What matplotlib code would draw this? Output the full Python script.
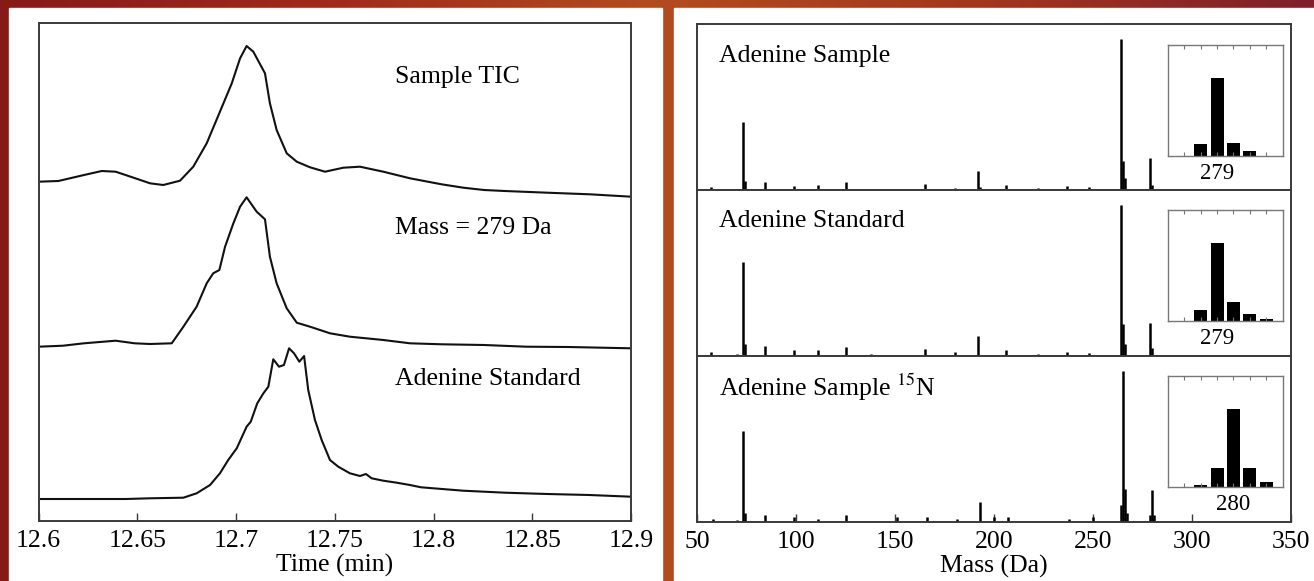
import numpy as np
import matplotlib.pyplot as plt
from matplotlib.colors import LinearSegmentedColormap
from matplotlib.patches import Rectangle

plt.rcParams['font.family'] = ['Liberation Serif', 'DejaVu Serif']
plt.rcParams['mathtext.fontset'] = 'stix'

# chromatograms (time in min, relative intensity)
tic_t = [12.600, 12.610, 12.623, 12.632, 12.639, 12.644, 12.653, 12.6564, 12.6631,
         12.6716, 12.6783, 12.6851, 12.6918, 12.6978, 12.7020, 12.7053, 12.7087,
         12.7146, 12.7171, 12.7205, 12.7256, 12.7307, 12.7374, 12.7450, 12.7543,
         12.7627, 12.7745, 12.7880, 12.804, 12.815, 12.8255, 12.836, 12.8575,
         12.879, 12.900]
tic_i = [18.3, 19, 25, 29, 28.3, 25, 19, 16.7, 15, 19.3, 33.3, 56.7, 88.3, 116.7,
         141.7, 154, 148.3, 126.7, 96.7, 70, 46.7, 38.3, 32.7, 28.3, 32.3, 33.3,
         28.3, 21.7, 15.7, 12.3, 10, 9, 7.3, 5.7, 3.3]

m279_t = [12.600, 12.6124, 12.623, 12.639, 12.6486, 12.6564, 12.6674, 12.6733,
          12.6800, 12.6851, 12.6884, 12.6915, 12.6944, 12.6986, 12.7020, 12.7053,
          12.7104, 12.7146, 12.7171, 12.7205, 12.7256, 12.7307, 12.7374, 12.7475,
          12.7576, 12.7745, 12.7880, 12.8042, 12.8255, 12.8469, 12.8682, 12.900]
m279_i = [3.3, 4.3, 6.7, 9.3, 6.7, 6, 6.7, 23.3, 43.3, 66.7, 76.7, 80, 103.3, 126.7,
          143.3, 152.7, 138.3, 130.7, 93.3, 66.7, 41.7, 27.3, 23.3, 16.7, 13.3, 10,
          6.7, 5.7, 5, 3.3, 3, 1.7]

std_t = [12.600, 12.623, 12.6443, 12.6564, 12.6733, 12.6800, 12.6868, 12.6918,
         12.6960, 12.7003, 12.7053, 12.7074, 12.7107, 12.7138, 12.7163, 12.7188,
         12.7217, 12.7242, 12.7268, 12.7293, 12.7320, 12.7344, 12.7365, 12.7399,
         12.7433, 12.7475, 12.7517, 12.7576, 12.7627, 12.7657, 12.7686, 12.7745,
         12.7813, 12.7880, 12.7936, 12.8149, 12.8362, 12.8575, 12.8788, 12.900]
std_i = [1, 1, 1, 1.7, 2.3, 6.7, 15, 26.7, 40, 51.7, 73.3, 78.3, 96.7, 106.7, 113.3,
         140.7, 133.3, 135, 151.7, 146.7, 138.3, 144, 110, 80, 60, 40, 33.3, 26.7,
         24, 26, 21.7, 19.3, 17.3, 15, 12.7, 9.3, 7.3, 6, 5, 3.3]

trace_names = ['Sample TIC', 'Mass = 279 Da', 'Adenine Standard']

# mass spectra (m/z, % of base peak)
smp_mz = [57, 70, 73, 74, 84, 99, 111, 125, 130, 138, 165, 180, 192, 193, 206, 222,
          237, 248, 264, 265, 266, 279, 280]
smp_pct = [1.8, 0.5, 45.3, 6.2, 5.1, 2.9, 3.1, 5.5, 0.9, 0.7, 4.0, 1.5, 12.6, 2.0,
           3.3, 1.1, 2.7, 1.8, 100, 19.2, 7.8, 21, 3.3]

std_mz = [57, 70, 73, 74, 84, 99, 111, 125, 130, 138, 165, 180, 192, 206, 222, 237,
          248, 264, 265, 266, 279, 280]
std_pct = [2.7, 1.1, 62, 7.7, 6.6, 3.8, 3.8, 6.0, 0.7, 0.9, 4.4, 2.2, 13.3, 3.8, 1.1,
           2.7, 1.8, 100, 21, 7.7, 22, 5.5]

n15_mz = [58, 70, 73, 74, 84, 99, 111, 125, 138, 151, 166, 181, 193, 200, 207, 222,
          238, 250, 264, 265, 266, 267, 279, 280, 281]
n15_pct = [1.8, 1.1, 60.4, 5.5, 4.4, 2.9, 1.8, 4.4, 0.7, 3.3, 3.3, 1.6, 12.9, 3.3,
           2.9, 0.7, 1.8, 3.3, 11, 100, 22, 5.5, 4.4, 20.7, 4.4]

# molecular ion clusters shown in the insets
iso_mz = [278, 279, 280, 281, 282]
smp_iso = [15, 100, 15.8, 6, 0]
std_iso = [14.2, 100, 23.6, 9, 2.2]
n15_iso = [2.2, 24, 100, 24, 6]

spectra = [
    ('Adenine Sample', smp_mz, smp_pct, smp_iso, 279),
    ('Adenine Standard', std_mz, std_pct, std_iso, 279),
    ('Adenine Sample $^{15}$N', n15_mz, n15_pct, n15_iso, 280),
]

W, H = 1314, 581
fig = plt.figure(figsize=(W / 100, H / 100), dpi=100)

# backdrop
bg = fig.add_axes([0, 0, 1, 1])
cmap = LinearSegmentedColormap.from_list(
    'bg', ['#861a17', '#a02a1c', '#b24c20', '#a2361e', '#7e1f2a'])
gx = np.linspace(0, 1, 300)
bg.imshow(np.tile(gx, (10, 1)), cmap=cmap, aspect='auto', extent=[0, 1, 0, 1])
bg.add_patch(Rectangle((9 / W, 0), (662 - 9) / W, 1 - 8 / H, color='white'))
bg.add_patch(Rectangle((674 / W, 0), (W - 674) / W, 1 - 8 / H, color='white'))
bg.set_xlim(0, 1)
bg.set_ylim(0, 1)
bg.axis('off')

spine_c = '#3a3a3a'
fs = 18.5

# left: stacked chromatograms
ax = fig.add_axes([38.6 / W, 1 - 520.7 / H, 592.6 / W, 497.7 / H])
offsets = [320.7, 170.7, 20.7]
for (t, y), off in zip([(tic_t, tic_i), (m279_t, m279_i), (std_t, std_i)], offsets):
    ax.plot(t, np.array(y) + off, color='#111111', lw=1.5)
for name, ty in zip(trace_names, [0.891, 0.588, 0.285]):
    ax.text(0.602, ty, name, transform=ax.transAxes, fontsize=fs, va='center')
ax.set_xlim(12.6, 12.9)
ax.set_ylim(0, 497.7)
ax.set_xticks([12.6, 12.65, 12.7, 12.75, 12.8, 12.85, 12.9])
ax.set_xticklabels(['12.6', '12.65', '12.7', '12.75', '12.8', '12.85', '12.9'])
ax.set_yticks([])
ax.tick_params(axis='x', direction='in', length=6, width=1, labelsize=fs, pad=7,
               color=spine_c)
ax.set_xlabel('Time (min)', fontsize=fs, labelpad=1)
for s in ax.spines.values():
    s.set_color(spine_c)
    s.set_linewidth(1.4)

# right: stacked mass spectra with isotope insets
panel_h = 165.9
for k, (name, mz, pct, iso, lab) in enumerate(spectra):
    top = 24 + k * panel_h
    axs = fig.add_axes([697.4 / W, 1 - (top + panel_h) / H, 593.4 / W, panel_h / H])
    axs.vlines(mz, 0, pct, color='black', lw=1.8)
    axs.set_xlim(50, 350)
    axs.set_ylim(0, 110)
    axs.set_yticks([])
    axs.text(0.037, 0.81, name, transform=axs.transAxes, fontsize=fs, va='center')
    for s in axs.spines.values():
        s.set_color(spine_c)
        s.set_linewidth(1.4)
    if k < 2:
        axs.set_xticks([])
    else:
        axs.set_xticks(range(50, 351, 50))
        axs.tick_params(axis='x', direction='in', length=6, width=1, labelsize=fs,
                        pad=7, color=spine_c)
        axs.set_xlabel('Mass (Da)', fontsize=fs, labelpad=1)

    ins_top = [45, 210, 376][k]
    ins = fig.add_axes([1167.9 / W, 1 - (ins_top + 110.7) / H, 114.7 / W, 110.7 / H])
    ins.bar(iso_mz, iso, width=0.8, color='black')
    ins.set_xlim(276, 283)
    ins.set_ylim(0, 142)
    ins.set_yticks([])
    ticks = list(range(277, 283))
    ins.set_xticks(ticks)
    ins.set_xticklabels([str(v) if v == lab else '' for v in ticks])
    ins.tick_params(axis='x', direction='in', length=3, width=0.8, top=True,
                    labelsize=16.5, pad=5, color='#777777')
    for s in ins.spines.values():
        s.set_color('#777777')
        s.set_linewidth(1.0)

fig.savefig('out.png', dpi=100)
